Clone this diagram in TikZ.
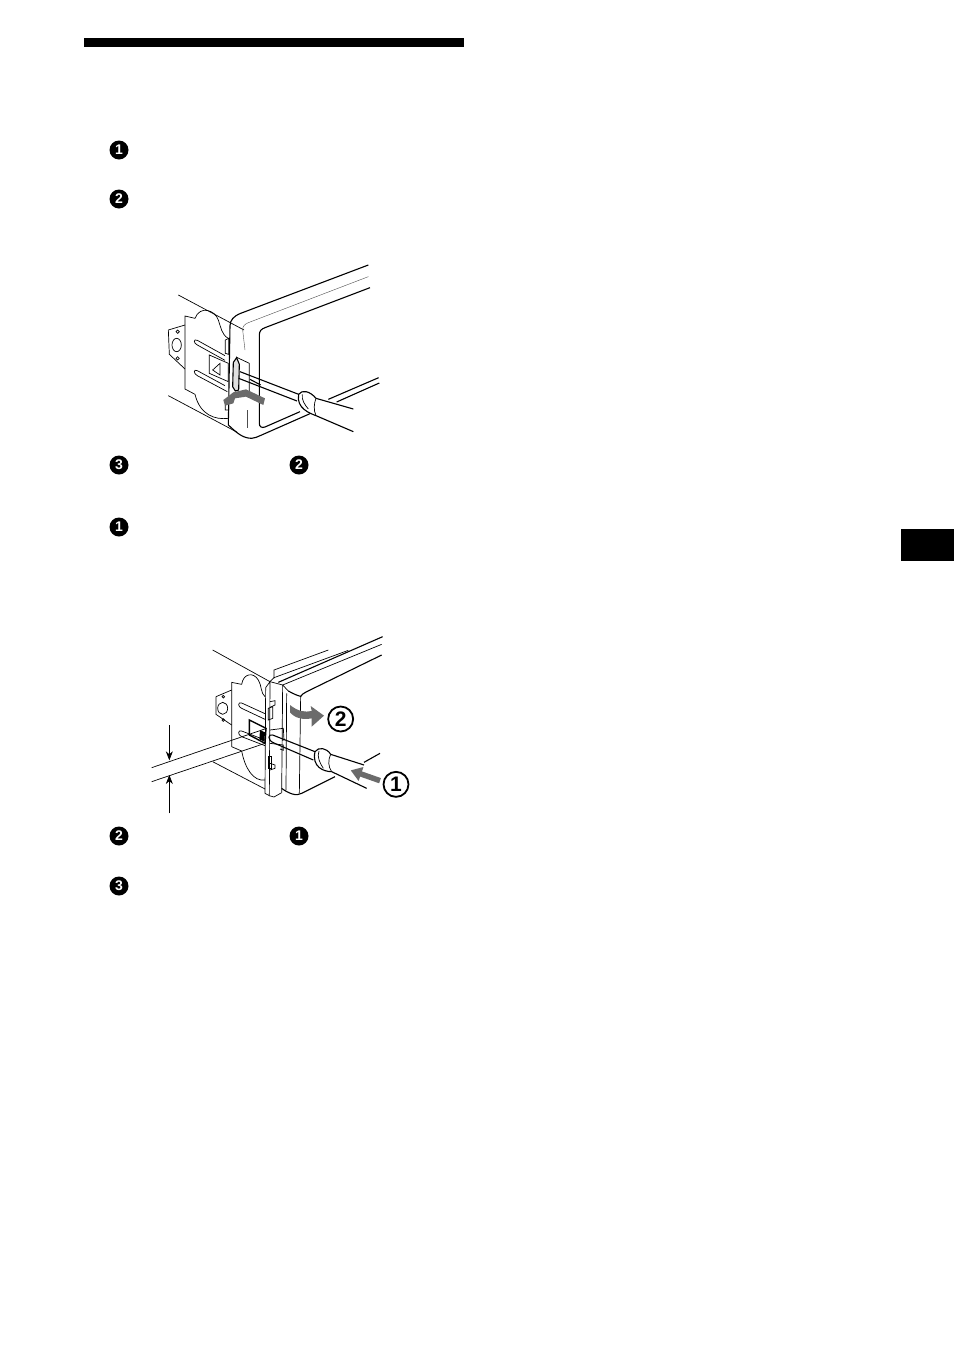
\documentclass[tikz,border=0pt]{standalone}
\usepackage{fontspec}
\setsansfont{Liberation Sans}
\usepackage{xcolor}
\usetikzlibrary{arrows.meta,positioning,calc}
\definecolor{arrowgray}{gray}{0.42}

\begin{document}
\begin{tikzpicture}[x=1pt, y=-1pt,
        stepmark/.style={circle, fill=black, text=white, inner sep=0pt, minimum size=19pt, font=\sffamily\bfseries\fontsize{14}{14}\selectfont},
        callout/.style={circle, draw, line width=1.8pt, fill=white, inner sep=0pt, minimum size=25pt, font=\sffamily\bfseries\fontsize{21}{21}\selectfont},
        part/.style={line width=0.7pt},
        heavy/.style={line width=1.1pt},
        faint/.style={line width=0.4pt, black!70},
        sweep/.style={arrowgray, line width=5.5pt},
        >=stealth
    ]
    \useasboundingbox (0,0) rectangle (954,1352);

    \node [fill=black, minimum width=380pt, minimum height=9pt, inner sep=0pt] (titlebar) at (274,42.5) {};
    \node [fill=black, minimum width=53pt, minimum height=32pt, inner sep=0pt] (tab) at (927.5,545) {};

    \node [stepmark] (stepa) at (119,150) {1};
    \node [stepmark] (stepb) at (119,199) {2};
    \node [stepmark] (stepc) at (119,465) {3};
    \node [stepmark] (stepd) at (299,465) {2};
    \node [stepmark] (stepe) at (119,527) {1};
    \node [stepmark] (stepf) at (119,836) {2};
    \node [stepmark] (stepg) at (299,836) {1};
    \node [stepmark] (steph) at (119,886) {3};

    % first figure
    \begin{scope}[shift={(150,255)}, scale=1/3]
        \draw [part] (85,120) -- (282,225);
        \draw [part] (55,422) -- (262,532);
        \draw [heavy] (655,30) -- (272,175) .. controls (250,184) and (241,195) .. (240,212) -- (235,510) .. controls (255,528) and (275,550) .. (305,550) .. controls (315,550) and (322,545) .. (335,540) -- (480,476);
        \draw [heavy] (560,441) -- (688,384);
        \draw [heavy] (660,98) -- (345,218) .. controls (334,222) and (328,228) .. (328,240) -- (328,505) .. controls (328,515) and (335,520) .. (345,516) -- (450,470);
        \draw [heavy] (535,433) -- (686,368);
        \draw [faint] (655,65) -- (295,203) .. controls (283,208) and (278,214) .. (278,225) -- (285,285);
        \draw [faint] (292,465) -- (292,518);
        % bracket plate
        \draw [part] (235,250) .. controls (215,240) and (212,215) .. (205,195) .. controls (195,165) and (150,150) .. (135,190) -- (105,183) -- (105,402) -- (135,418) .. controls (150,480) and (195,495) .. (235,490);
        \draw [part] (55,225) -- (105,210);
        \draw [part] (55,225) -- (58,298) -- (105,342);
        \draw [part] (80,270) ellipse [x radius=14, y radius=20];
        \draw [part] (83,230) circle [radius=5];
        \draw [part] (83,310) circle [radius=5];
        \draw [part] (225,302) -- (142,256) .. controls (130,250) and (130,265) .. (142,270) -- (225,316);
        \draw [part] (225,392) -- (142,347) .. controls (130,341) and (130,356) .. (142,362) -- (232,410);
        \draw [part] (178,300) -- (235,325) -- (235,380) -- (178,355) -- cycle;
        \draw [part] (210,325) -- (188,345) -- (210,360) -- cycle;
        \draw [part] (226,255) -- (236,250) -- (236,298) -- (226,295) -- cycle;
        \draw [part] (226,450) -- (236,445) -- (236,465) -- (226,465) -- cycle;
        % clip on the panel
        \draw [part] (258,306) -- (298,325) -- (298,408);
        \draw [heavy, fill=black!12] (250,322) -- (260,308) -- (268,328) -- (266,405) -- (256,408) -- (248,395) -- cycle;
        % screwdriver
        \draw [heavy] (270,350) -- (446,418);
        \draw [heavy] (266,370) -- (441,438);
        \draw [heavy] (300,373) -- (332,390);
        \fill [white] (446,418) .. controls (455,403) and (480,408) .. (498,430) -- (610,462) -- (610,530) -- (498,482) .. controls (480,475) and (438,460) .. (446,418) -- cycle;
        \draw [heavy] (498,430) -- (610,462);
        \draw [heavy] (498,482) -- (610,530);
        \draw [heavy] (498,430) .. controls (480,408) and (455,403) .. (446,418) .. controls (438,460) and (480,475) .. (498,482);
        \draw [part] (457,418) .. controls (454,435) and (465,450) .. (475,462);
        \draw [part] (498,430) .. controls (492,445) and (490,465) .. (498,482);
        % gray sweep arrow
        \fill [arrowgray] (220,435) -- (250,412) -- (288,403) -- (345,430) -- (340,450) -- (288,425) -- (255,430) -- (250,445) -- (225,452) -- cycle;
    \end{scope}

    % second figure
    \begin{scope}[shift={(140,625)}, scale=1/3]
        \draw [part] (218,75) -- (390,170);
        \draw [part] (218,410) -- (375,492);
        \draw [part] (402,160) -- (402,135) -- (565,75);
        \draw [part] (402,158) -- (625,76);
        \draw [part] (390,170) -- (402,158);
        \draw [heavy] (415,172) -- (728,35);
        \draw [part] (428,180) -- (725,58);
        \draw [heavy] (445,198) .. controls (460,206) and (472,212) .. (482,214) .. controls (486,208) and (492,204) .. (500,200) -- (725,90);
        \draw [part] (390,170) -- (428,180) -- (445,198);
        % thin plate in front
        \draw [part] (390,170) -- (388,512) -- (375,505) -- (377,188) -- cycle;
        \draw [part] (388,512) -- (402,516) -- (425,503);
        \draw [part] (428,180) -- (425,503);
        \draw [part] (440,205) -- (438,495);
        \draw [part] (482,214) -- (478,505);
        \draw [heavy] (425,490) .. controls (445,505) and (470,515) .. (485,505) -- (585,455);
        \draw [heavy] (672,412) -- (720,385);
        % bracket plate
        \draw [part] (375,215) .. controls (362,205) and (365,180) .. (355,165) .. controls (340,140) and (310,145) .. (305,178) -- (275,172) -- (275,365) -- (305,378) .. controls (315,430) and (340,470) .. (375,465);
        \draw [part] (228,215) -- (275,195);
        \draw [part] (228,215) -- (228,268) -- (275,300);
        \draw [part] (248,250) ellipse [x radius=15, y radius=18];
        \draw [part] (250,215) circle [radius=4];
        \draw [part] (250,285) circle [radius=4];
        \draw [part] (375,266) -- (305,234) .. controls (293,230) and (293,245) .. (305,250) -- (375,283);
        \draw [part] (375,345) -- (305,318) .. controls (293,314) and (293,330) .. (305,335) -- (375,362);
        \draw [line width=1.4pt] (328,285) -- (378,310) -- (375,355) -- (328,330) -- cycle;
        \fill (360,315) -- (375,322) -- (373,350) -- (358,343) -- cycle;
        % notches in the thin plate
        \draw [part] (390,230) -- (405,227) -- (405,240) -- (390,247);
        \draw [part] (385,250) -- (398,245) -- (398,280) -- (385,285) -- cycle;
        \draw [part] (385,395) -- (395,395) -- (395,430) -- (385,430) -- cycle;
        \draw [part] (390,415) -- (405,420) -- (405,430) -- (390,435);
        % clip
        \draw [part] (390,315) -- (430,310) -- (432,345) -- (426,345);
        \draw [part] (390,355) -- (430,360) -- (430,376) -- (420,372);
        % gauge lines with measure
        \draw [part] (35,428) -- (380,310);
        \draw [part] (35,470) -- (375,355);
        \coordinate (gaugetop) at (88,300);
        \coordinate (gaugeupper) at (88,406);
        \coordinate (gaugelower) at (88,450);
        \coordinate (gaugefoot) at (88,565);
        \draw [part, -{Stealth[length=9pt,width=7pt]}] (gaugetop) -- (gaugeupper);
        \draw [part, -{Stealth[length=9pt,width=7pt]}] (gaugefoot) -- (gaugelower);
        % screwdriver
        \draw [heavy] (398,330) .. controls (385,325) and (380,345) .. (402,354);
        \draw [heavy] (398,330) -- (525,380);
        \draw [heavy] (402,354) -- (520,405);
        \fill [white] (525,380) .. controls (535,365) and (560,368) .. (572,388) -- (672,420) -- (680,490) -- (575,440) .. controls (550,440) and (515,425) .. (525,380) -- cycle;
        \draw [heavy] (572,388) -- (672,420);
        \draw [heavy] (575,440) -- (680,490);
        \draw [heavy] (572,388) .. controls (560,368) and (535,365) .. (525,380) .. controls (515,425) and (550,440) .. (575,440);
        \draw [part] (537,378) .. controls (530,395) and (540,415) .. (550,430);
        \draw [part] (572,388) .. controls (564,405) and (564,425) .. (575,440);
        % gray arrows
        \coordinate (pushtail) at (720,467);
        \coordinate (pushtip) at (632,436);
        \draw [sweep, -{Triangle[length=11pt,width=14pt]}] (pushtail) -- (pushtip);
        \fill [arrowgray] (450,240) .. controls (475,260) and (495,262) .. (515,258) -- (512,243) -- (552,272) -- (515,305) -- (515,280) .. controls (490,285) and (465,280) .. (450,262) -- cycle;
        \node [callout] (calloutb) at (602,282) {2};
        \node [callout] (callouta) at (768,478) {1};
    \end{scope}
\end{tikzpicture}
\end{document}
